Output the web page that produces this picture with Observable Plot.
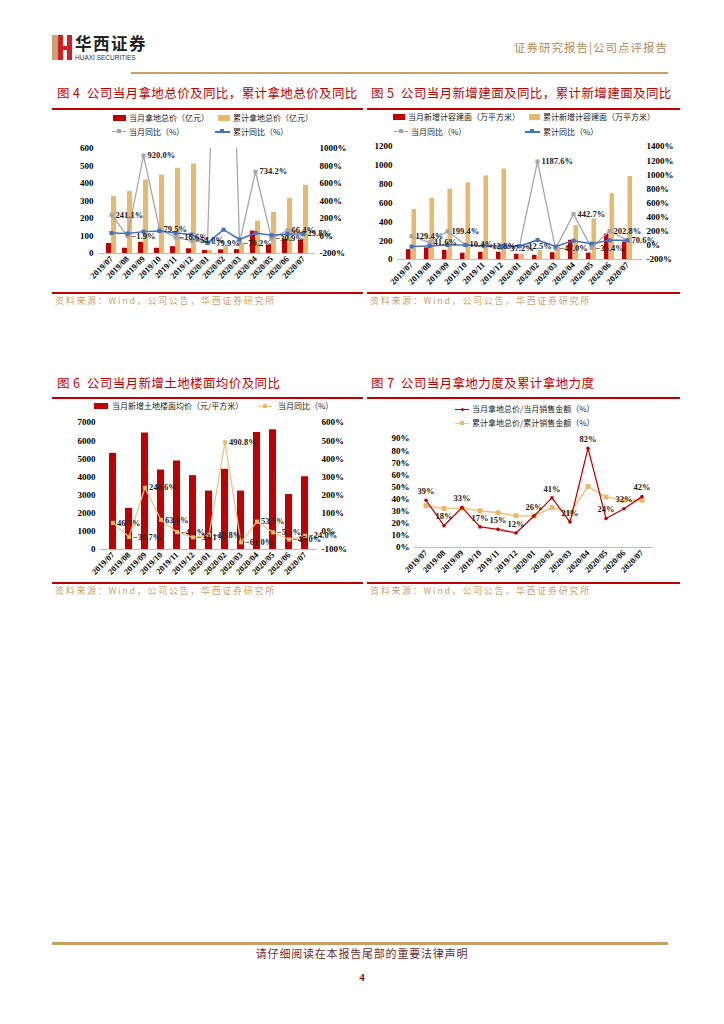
<!DOCTYPE html>
<html><head><meta charset="utf-8">
<script src="https://cdn.jsdelivr.net/npm/d3@7"></script>
<script src="https://cdn.jsdelivr.net/npm/@observablehq/plot@0.6"></script>
<style>
body{margin:0;background:#fff;}
#page{position:relative;width:724px;height:1024px;overflow:hidden;font-family:"Noto Sans CJK SC",sans-serif;background:#fff;}
.abs{position:absolute;white-space:nowrap;}
.title{color:#c00000;font-size:12.5px;line-height:14px;letter-spacing:0.4px;}
.rule{position:absolute;height:2px;background:#c00000;}
.src{color:#c9a46e;font-size:9px;line-height:11px;letter-spacing:1.7px;}
.leg{font-size:8px;color:#222;line-height:10px;}
.chart{position:absolute;}
.chart svg{overflow:visible;}
</style></head>
<body><div id="page">
  <!-- header -->
  <div class="abs" style="left:52px;top:35px;width:6px;height:25px;background:#c8a26e;"></div>
  <div class="abs" style="left:58px;top:35px;width:5px;height:25px;background:#d21f26;"></div>
  <div class="abs" style="left:63px;top:46px;width:4px;height:4px;background:#d21f26;"></div>
  <div class="abs" style="left:67px;top:35px;width:5px;height:25px;background:#d21f26;"></div>
  <div class="abs" style="left:75px;top:34px;font-size:16.5px;font-weight:bold;color:#222;letter-spacing:1.5px;line-height:19px;">华西证券</div>
  <div class="abs" style="left:75px;top:54px;font-size:6.5px;color:#333;font-family:'Liberation Sans',sans-serif;line-height:8px;">HUAXI SECURITIES</div>
  <div class="abs" style="right:56px;top:40px;font-size:11.5px;color:#b5895a;letter-spacing:1px;line-height:14px;">证券研究报告|公司点评报告</div>
  <div class="abs" style="left:131px;top:72px;width:537px;height:2px;background:#c9a063;"></div>

  <!-- titles -->
  <div class="abs title" style="left:57px;top:86px;">图 4&nbsp;&nbsp;公司当月拿地总价及同比，累计拿地总价及同比</div>
  <div class="abs title" style="left:371px;top:86px;">图 5&nbsp;&nbsp;公司当月新增建面及同比，累计新增建面及同比</div>
  <div class="abs title" style="left:57px;top:376px;">图 6&nbsp;&nbsp;公司当月新增土地楼面均价及同比</div>
  <div class="abs title" style="left:371px;top:376px;">图 7&nbsp;&nbsp;公司当月拿地力度及累计拿地力度</div>
  <div class="rule" style="left:52px;top:108px;width:311px;"></div>
  <div class="rule" style="left:367px;top:108px;width:313px;"></div>
  <div class="rule" style="left:52px;top:397px;width:311px;"></div>
  <div class="rule" style="left:367px;top:397px;width:313px;"></div>
  <div class="rule" style="left:52px;top:292px;width:311px;"></div>
  <div class="rule" style="left:367px;top:292px;width:313px;"></div>
  <div class="rule" style="left:52px;top:582px;width:311px;"></div>
  <div class="rule" style="left:367px;top:582px;width:313px;"></div>
  <div class="abs src" style="left:55px;top:295px;">资料来源：Wind，公司公告，华西证券研究所</div>
  <div class="abs src" style="left:370px;top:295px;">资料来源：Wind，公司公告，华西证券研究所</div>
  <div class="abs src" style="left:55px;top:585px;">资料来源：Wind，公司公告，华西证券研究所</div>
  <div class="abs src" style="left:370px;top:585px;">资料来源：Wind，公司公告，华西证券研究所</div>

  <!-- legends fig4 -->
  <div class="abs" style="left:113px;top:115px;width:13px;height:6px;background:#c00000;"></div>
  <div class="abs leg" style="left:129px;top:113px;">当月拿地总价（亿元）</div>
  <div class="abs" style="left:218px;top:115px;width:12px;height:6px;background:#e6b96f;"></div>
  <div class="abs leg" style="left:233px;top:113px;">累计拿地总价（亿元）</div>
  <div class="abs" style="left:112px;top:131px;width:14px;height:1px;background:#a5a5a5;"></div>
  <div class="abs" style="left:117px;top:129px;width:4px;height:4px;background:#a5a5a5;"></div>
  <div class="abs leg" style="left:129px;top:127px;">当月同比（%）</div>
  <div class="abs" style="left:215px;top:131px;width:15px;height:1.5px;background:#4472c4;"></div>
  <div class="abs" style="left:220px;top:129px;width:4px;height:4px;background:#4472c4;"></div>
  <div class="abs leg" style="left:233px;top:127px;">累计同比（%）</div>

  <!-- legends fig5 -->
  <div class="abs" style="left:393px;top:114px;width:12px;height:6px;background:#c00000;"></div>
  <div class="abs leg" style="left:408px;top:112px;">当月新增计容建面（万平方米）</div>
  <div class="abs" style="left:529px;top:114px;width:11px;height:6px;background:#e6b96f;"></div>
  <div class="abs leg" style="left:543px;top:112px;">累计新增计容建面（万平方米）</div>
  <div class="abs" style="left:394px;top:131px;width:14px;height:1px;background:#a5a5a5;"></div>
  <div class="abs" style="left:399px;top:129px;width:4px;height:4px;background:#a5a5a5;"></div>
  <div class="abs leg" style="left:411px;top:127px;">当月同比（%）</div>
  <div class="abs" style="left:525px;top:131px;width:15px;height:1.5px;background:#4472c4;"></div>
  <div class="abs" style="left:530px;top:129px;width:4px;height:4px;background:#4472c4;"></div>
  <div class="abs leg" style="left:543px;top:127px;">累计同比（%）</div>

  <!-- legends fig6 -->
  <div class="abs" style="left:94px;top:403px;width:14px;height:6px;background:#c00000;"></div>
  <div class="abs leg" style="left:112px;top:401px;">当月新增土地楼面均价（元/平方米）</div>
  <div class="abs" style="left:258px;top:406px;width:14px;height:1px;background:#f2c27e;"></div>
  <div class="abs" style="left:263px;top:404px;width:4px;height:4px;background:#e6b96f;"></div>
  <div class="abs leg" style="left:278px;top:401px;">当月同比（%）</div>

  <!-- legends fig7 -->
  <div class="abs" style="left:455px;top:409px;width:14px;height:1px;background:#c00000;"></div>
  <div class="abs" style="left:461px;top:408px;width:3px;height:3px;background:#c00000;border-radius:2px;"></div>
  <div class="abs leg" style="left:472px;top:404px;">当月拿地总价/当月销售金额（%）</div>
  <div class="abs" style="left:455px;top:423px;width:14px;height:1px;background:#f2c27e;"></div>
  <div class="abs" style="left:460px;top:421px;width:4px;height:4px;background:#e6b96f;"></div>
  <div class="abs leg" style="left:472px;top:418px;">累计拿地总价/累计销售金额（%）</div>

  <div id="c4" class="chart" style="left:52px;top:138px;"></div>
  <div id="c5" class="chart" style="left:365px;top:136px;"></div>
  <div id="c6" class="chart" style="left:52px;top:412px;"></div>
  <div id="c7" class="chart" style="left:367px;top:428px;"></div>

  <!-- footer -->
  <div class="abs" style="left:52px;top:942px;width:616px;height:3px;background:#c9a063;"></div>
  <div class="abs" style="left:0;width:724px;text-align:center;top:946px;font-size:11px;color:#6a2c2c;letter-spacing:0.8px;line-height:14px;">请仔细阅读在本报告尾部的重要法律声明</div>
  <div class="abs" style="left:0;width:724px;text-align:center;top:971px;font-size:11px;font-weight:bold;color:#7a1e1e;font-family:'Liberation Serif',serif;line-height:13px;">4</div>
</div>
<script>
// ---------- data ----------
const months = ["2019/07","2019/08","2019/09","2019/10","2019/11","2019/12","2020/01","2020/02","2020/03","2020/04","2020/05","2020/06","2020/07"];

// Fig 4: land cost (亿元) and YoY (%)
const landCostMonthly = [57, 30, 64, 30, 39, 27, 17, 21, 22, 128, 47, 82, 76];
const landCostCum = [325, 355, 420, 448, 487, 512, 17, 38, 60, 185, 235, 314, 390];
const landCostMonthlyYoY = [241.1, -1.9, 920.0, 79.5, -16.6, -54.0, -79.9, 5900, -79.2, 734.2, -30.9, 66.4, 29.8];
const landCostCumYoY = [34, 28, 50, 58, 34, 16, -79.9, 72, -40, 34, 8, 24, 24];
const fig4LeftTicks = [0, 100, 200, 300, 400, 500, 600];
const fig4RightTicks = [-200, 0, 200, 400, 600, 800, 1000];

// Fig 5: new GFA (万平方米) and YoY (%)
const gfaMonthly = [105, 123, 98, 67, 77, 77, 56, 44, 72, 204, 67, 270, 186];
const gfaCum = [530, 649, 747, 814, 888, 961, 56, 95, 150, 361, 432, 698, 881];
const gfaMonthlyYoY = [129.4, 41.6, 199.4, 10.4, -12.8, -37.2, -12.5, 1187.6, -47.0, 442.7, -35.4, 202.8, 70.6];
const gfaCumYoY = [-17, -8, 6, 5, -4, -8, -12.5, 76, -17, 67, 24, 71, 71];
const fig5LeftTicks = [0, 200, 400, 600, 800, 1000, 1200];
const fig5RightTicks = [-200, 0, 200, 400, 600, 800, 1000, 1200, 1400];

// Fig 6: floor price (元/平方米) and YoY (%)
const floorPrice = [5300, 2270, 6420, 4380, 4880, 4070, 3220, 4420, 3220, 6450, 6600, 3030, 4010];
const floorPriceYoY = [46.7, -30.7, 240.6, 63.0, -4.3, -33.1, -19.8, 490.8, -61.0, 53.5, -5.5, -45.0, -24.0];
const fig6LeftTicks = [0, 1000, 2000, 3000, 4000, 5000, 6000, 7000];
const fig6RightTicks = [-100, 0, 100, 200, 300, 400, 500, 600];

// Fig 7: land acquisition intensity (%)
const ratioMonthly = [39, 18, 33, 17, 15, 12, 26, 41, 21, 82, 24, 32, 42];
const ratioCum = [34.4, 32.2, 32.5, 30.3, 28.7, 26.2, 26, 33, 28.6, 50.4, 41.6, 39, 39];
const fig7Ticks = [0, 10, 20, 30, 40, 50, 60, 70, 80, 90];

// ---------- styles ----------
const RED = "#c00000", TAN = "#e6b96f", TANLINE = "#f2c27e", GRAY = "#a5a5a5", BLUE = "#4472c4", AXIS = "#bfbfbf";
const SERIF = "'Liberation Serif', 'Times New Roman', serif";
const baseStyle = {fontFamily: SERIF, fontWeight: "bold", fontSize: "8.5px", color: "#000", background: "transparent", overflow: "visible"};
const pct1 = v => d3.format(".1f")(v) + "%";

function dualChart(el, o) {
  const lmax = o.lmax;
  const toL = r => (r - o.rmin) / (o.rmax - o.rmin) * lmax;
  const fromL = l => o.rmin + l / lmax * (o.rmax - o.rmin);
  const data = months.map((m, i) => ({
    m,
    a: o.a[i],
    b: o.b ? o.b[i] : null,
    g: toL(o.g[i]), gv: o.g[i],
    bl: o.bl ? toL(o.bl[i]) : null
  }));
  const frameW = o.width - o.ml - o.mr;
  const bw = frameW / months.length * (1 - o.pin);
  const marks = [];
  if (o.b) {
    marks.push(Plot.barY(data, {x: "m", y: "a", fill: RED, insetRight: bw / 2}));
    marks.push(Plot.barY(data, {x: "m", y: "b", fill: TAN, insetLeft: bw / 2}));
  } else {
    marks.push(Plot.barY(data, {x: "m", y: "a", fill: RED}));
  }
  marks.push(
    Plot.ruleY([0], {stroke: AXIS}),
    Plot.axisY({anchor: "left", ticks: o.leftTicks, tickFormat: d => String(d), tickSize: 0, tickPadding: 5, line: true, stroke: AXIS, label: null, fontSize: 9, fontWeight: "bold"}),
    Plot.axisY({anchor: "right", ticks: o.rightTicks.map(toL), tickFormat: d => Math.round(fromL(d)) + "%", tickSize: 0, tickPadding: 4, line: true, stroke: AXIS, label: null, fontSize: 9, fontWeight: "bold"}),
    Plot.axisX({tickRotate: -45, tickSize: 0, tickPadding: 4, label: null, fontSize: 8.5, fontWeight: "bold"}),
    Plot.line(data, {x: "m", y: "g", stroke: o.gColor, strokeWidth: 1.25, clip: true}),
    Plot.dot(data.filter(d => d.gv <= o.rmax), {x: "m", y: "g", symbol: "square", r: 2.3, fill: o.gMarker, stroke: "none"})
  );
  if (o.bl) {
    marks.push(
      Plot.line(data, {x: "m", y: "bl", stroke: BLUE, strokeWidth: 1.5}),
      Plot.dot(data, {x: "m", y: "bl", symbol: "square", r: 2.3, fill: BLUE, stroke: "none"})
    );
  }
  marks.push(Plot.text(data.filter(d => d.gv <= o.rmax), {x: "m", y: "g", text: d => pct1(d.gv), dx: 4, textAnchor: "start", fontSize: 8.5, fontWeight: "bold", fill: "#222"}));
  const plot = Plot.plot({
    width: o.width, height: o.height,
    marginLeft: o.ml, marginRight: o.mr, marginTop: o.mt, marginBottom: o.mb,
    style: baseStyle,
    x: {type: "band", domain: months, paddingInner: o.pin, paddingOuter: o.pin / 2},
    y: {domain: [0, lmax]},
    marks
  });
  document.getElementById(el).appendChild(plot);
}

dualChart("c4", {width: 310, height: 160, ml: 46, mr: 47, mt: 10, mb: 45, pin: 0.4,
  lmax: 600, rmin: -200, rmax: 1000, leftTicks: fig4LeftTicks, rightTicks: fig4RightTicks,
  a: landCostMonthly, b: landCostCum, g: landCostMonthlyYoY, bl: landCostCumYoY, gColor: GRAY, gMarker: GRAY});

dualChart("c5", {width: 320, height: 160, ml: 32, mr: 43, mt: 10, mb: 37, pin: 0.42,
  lmax: 1200, rmin: -200, rmax: 1400, leftTicks: fig5LeftTicks, rightTicks: fig5RightTicks,
  a: gfaMonthly, b: gfaCum, g: gfaMonthlyYoY, bl: gfaCumYoY, gColor: GRAY, gMarker: GRAY});

dualChart("c6", {width: 310, height: 170, ml: 48, mr: 45, mt: 10, mb: 33, pin: 0.55,
  lmax: 7000, rmin: -100, rmax: 600, leftTicks: fig6LeftTicks, rightTicks: fig6RightTicks,
  a: floorPrice, b: null, g: floorPriceYoY, bl: null, gColor: TANLINE, gMarker: TAN});

// Fig 7
{
  const data = months.map((m, i) => ({m, r: ratioMonthly[i], c: ratioCum[i]}));
  const plot = Plot.plot({
    width: 318, height: 160, marginLeft: 47, marginRight: 32, marginTop: 10, marginBottom: 41,
    style: baseStyle,
    x: {type: "band", domain: months, paddingInner: 0.4, paddingOuter: 0.2},
    y: {domain: [0, 90]},
    marks: [
      Plot.ruleY([0], {stroke: AXIS}),
      Plot.axisY({anchor: "left", ticks: fig7Ticks, tickFormat: d => d + "%", tickSize: 0, tickPadding: 5, line: true, stroke: AXIS, label: null, fontSize: 9, fontWeight: "bold"}),
      Plot.axisX({tickRotate: -45, tickSize: 0, tickPadding: 4, label: null, fontSize: 8.5, fontWeight: "bold"}),
      Plot.line(data, {x: "m", y: "c", stroke: TANLINE, strokeWidth: 1.5}),
      Plot.dot(data, {x: "m", y: "c", symbol: "square", r: 2.8, fill: TAN, stroke: "none"}),
      Plot.line(data, {x: "m", y: "r", stroke: RED, strokeWidth: 1.25}),
      Plot.dot(data, {x: "m", y: "r", r: 1.8, fill: RED, stroke: "none"}),
      Plot.text(data, {x: "m", y: "r", text: d => d.r + "%", dy: -9, fontSize: 8.5, fontWeight: "bold", fill: "#222"})
    ]
  });
  document.getElementById("c7").appendChild(plot);
}
</script>
</body></html>
